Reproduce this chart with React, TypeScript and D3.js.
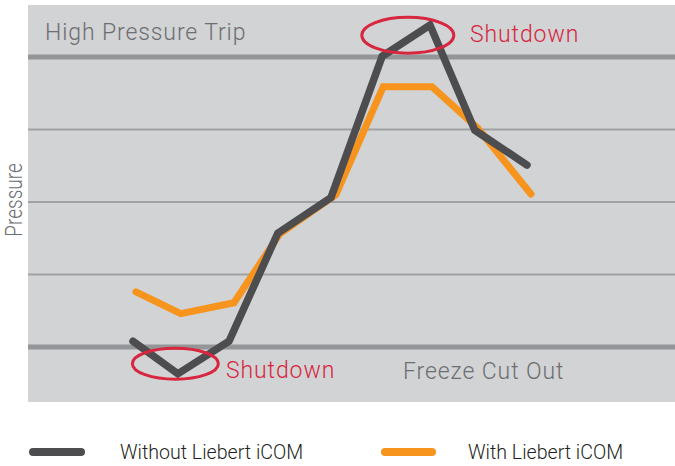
import React from "react";
import * as d3 from "d3";

// Time positions (arbitrary units) and pressure levels (0 = freeze cut out, 4 = high pressure trip)
const withoutX = [0, 0.91, 1.95, 2.94, 4.02, 5.06, 6.03, 6.94, 8.0];
const withoutY = [0.08, -0.37, 0.08, 1.57, 2.06, 4.01, 4.44, 2.99, 2.51];
const withX = [0.06, 0.97, 2.05, 2.98, 4.12, 5.08, 6.07, 7.0, 8.08];
const withY = [0.76, 0.46, 0.61, 1.56, 2.1, 3.59, 3.59, 3.02, 2.11];
const gridLevels = [0, 1, 2, 3, 4];
const thresholdLevels = [0, 4];
const seriesNames = ["Without Liebert iCOM", "With Liebert iCOM"];
const shutdownHigh = { x: 5.58, y: 4.3 };
const shutdownLow = { x: 0.86, y: -0.23 };

const W = 675;
const H = 466;
const plotLeft = 28;
const plotTop = 5;
const plotRight = 675;
const plotBottom = 402;

const GRAY_BG = "#d1d3d4";
const THICK = "#939598";
const THIN = "#9fa1a4";
const DARK = "#4d4d4f";
const ORANGE = "#f7941d";
const RED = "#d8263f";
const TEXT = "#6d6e71";

export default function App() {
  const x = d3.scaleLinear().domain([0, 8]).range([133, 527]);
  const y = d3.scaleLinear().domain([0, 4]).range([347, 57]);
  const line = d3
    .line<[number, number]>()
    .x((d) => x(d[0]))
    .y((d) => y(d[1]));
  const darkPts = withoutX.map((v, i) => [v, withoutY[i]] as [number, number]);
  const orangePts = withX.map((v, i) => [v, withY[i]] as [number, number]);
  const font = "Roboto, 'Open Sans', sans-serif";
  const big = { fontFamily: font, fontWeight: 300, fontSize: 23, letterSpacing: 0.9 };

  return (
    <svg
      width={W}
      height={H}
      style={{ position: "absolute", left: 0, top: 0, background: "#fff" }}
    >
      <rect
        x={plotLeft}
        y={plotTop}
        width={plotRight - plotLeft}
        height={plotBottom - plotTop}
        fill={GRAY_BG}
      />
      {gridLevels.map((g) => {
        const thick = thresholdLevels.includes(g);
        return (
          <line
            key={g}
            x1={plotLeft}
            x2={plotRight}
            y1={y(g)}
            y2={y(g)}
            stroke={thick ? THICK : THIN}
            strokeWidth={thick ? 5 : 2}
          />
        );
      })}
      <text x={45} y={40} {...big} fill={TEXT}>
        High Pressure Trip
      </text>
      <text x={403} y={379} {...big} fill={TEXT}>
        Freeze Cut Out
      </text>
      <text
        transform="translate(22,200) rotate(-90) scale(1,1.25)"
        textAnchor="middle"
        fontFamily={font}
        fontWeight={300}
        fontSize={19}
        fill={TEXT}
      >
        Pressure
      </text>

      <path
        d={line(orangePts) || ""}
        fill="none"
        stroke={ORANGE}
        strokeWidth={7}
        strokeLinecap="round"
        strokeLinejoin="miter"
      />
      <path
        d={line(darkPts) || ""}
        fill="none"
        stroke={DARK}
        strokeWidth={7.5}
        strokeLinecap="round"
        strokeLinejoin="miter"
      />

      <ellipse
        cx={x(shutdownHigh.x)}
        cy={y(shutdownHigh.y)}
        rx={46}
        ry={18}
        fill="none"
        stroke={RED}
        strokeWidth={3}
      />
      <ellipse
        cx={x(shutdownLow.x)}
        cy={y(shutdownLow.y)}
        rx={43}
        ry={15.5}
        fill="none"
        stroke={RED}
        strokeWidth={3}
      />
      <text x={470} y={42} {...big} fill={RED}>
        Shutdown
      </text>
      <text x={226} y={378} {...big} fill={RED}>
        Shutdown
      </text>

      {/* legend */}
      <line
        x1={33}
        x2={81}
        y1={452}
        y2={452}
        stroke={DARK}
        strokeWidth={8}
        strokeLinecap="round"
      />
      <text x={120} y={459} fontFamily={font} fontWeight={300} fontSize={19.6} fill="#231f20">
        {seriesNames[0]}
      </text>
      <line
        x1={385}
        x2={432}
        y1={452}
        y2={452}
        stroke={ORANGE}
        strokeWidth={8}
        strokeLinecap="round"
      />
      <text x={468} y={459} fontFamily={font} fontWeight={300} fontSize={19.6} fill="#231f20">
        {seriesNames[1]}
      </text>
    </svg>
  );
}
